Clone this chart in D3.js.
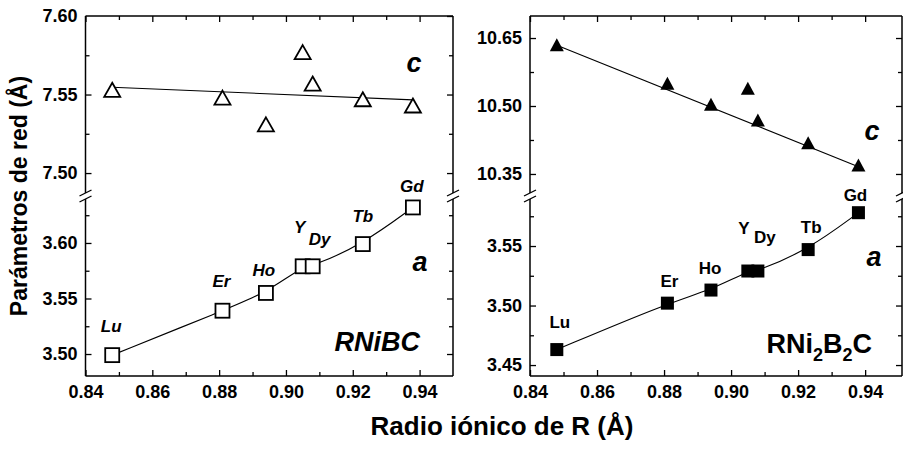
<!DOCTYPE html>
<html>
<head>
<meta charset="utf-8">
<script src="https://cdn.jsdelivr.net/npm/d3@7"></script>
<style>
  html, body { margin: 0; padding: 0; background: #fff; }
  svg { display: block; }
  text { font-family: "Liberation Sans", Arial, Helvetica, sans-serif; fill: #000; }
</style>
</head>
<body>
<svg id="chart" width="903" height="449"></svg>
<script>
// ---------------- data ----------------
const elements = ["Lu", "Er", "Ho", "Y", "Dy", "Tb", "Gd"];
const ionicRadius = [0.848, 0.881, 0.894, 0.905, 0.908, 0.923, 0.938];
const rnibcC = [7.553, 7.548, 7.531, 7.577, 7.557, 7.547, 7.543];
const rnibcA = [3.499, 3.539, 3.555, 3.579, 3.579, 3.599, 3.632];
const rni2b2cC = [10.635, 10.550, 10.504, 10.539, 10.469, 10.419, 10.370];
const rni2b2cA = [3.463, 3.502, 3.513, 3.529, 3.529, 3.547, 3.578];
const fitX = [0.848, 0.938];
const rnibcCFit = [7.5546, 7.5466];
const rni2b2cCFit = [10.634, 10.366];

const xTicksMajor = [0.84, 0.86, 0.88, 0.90, 0.92, 0.94];
const xTicksMinor = [0.85, 0.87, 0.89, 0.91, 0.93];
const leftUpperTicks = [7.50, 7.55, 7.60];
const leftUpperMinor = [7.525, 7.575];
const leftLowerTicks = [3.50, 3.55, 3.60];
const leftLowerMinor = [3.525, 3.575, 3.625];
const rightUpperTicks = [10.35, 10.50, 10.65];
const rightUpperMinor = [10.425, 10.575];
const rightLowerTicks = [3.45, 3.50, 3.55];
const rightLowerMinor = [3.475, 3.525, 3.575];

// ---------------- layout ----------------
const svg = d3.select("#chart");
const TOP = 16, BOTTOM = 376, BRK_TOP = 193, BRK_BOT = 199;
const FONT = '"Liberation Sans", Arial, Helvetica, sans-serif';

const panels = [
  {
    x0: 85.5, x1: 453, xDomainEnd: 0.95,
    upper: { domain: [7.4873, 7.60], ticks: leftUpperTicks, minor: leftUpperMinor },
    lower: { domain: [3.4802, 3.6396], ticks: leftLowerTicks, minor: leftLowerMinor },
    c: rnibcC, a: rnibcA, cFit: rnibcCFit, filled: false, italic: true,
    labelOffsets: { Lu: [-1, -23], Er: [-1, -24], Ho: [-2, -17], Y: [-3, -33], Dy: [7, -21], Tb: [0, -22], Gd: [-1, -15] },
    cLabel: [414, 72], aLabel: [420, 271],
    name: "RNiBC", nameX: 420, nameY: 351
  },
  {
    x0: 530, x1: 902, xDomainEnd: 0.951,
    upper: { domain: [10.308, 10.6986], ticks: rightUpperTicks, minor: rightUpperMinor },
    lower: { domain: [3.4408, 3.5895], ticks: rightLowerTicks, minor: rightLowerMinor },
    c: rni2b2cC, a: rni2b2cA, cFit: rni2b2cCFit, filled: true, italic: false,
    labelOffsets: { Lu: [3, -22], Er: [2, -16], Ho: [-1, -16], Y: [-4, -37], Dy: [7, -28], Tb: [3, -17], Gd: [-3, -12] },
    cLabel: [872, 140], aLabel: [874, 266],
    name: "RNi2B2C", nameX: 872, nameY: 353
  }
];

function triPath(w, h) {
  return `M0,${-h / 2}L${w / 2},${h / 2}L${-w / 2},${h / 2}Z`;
}

panels.forEach(p => {
  const g = svg.append("g");
  const x = d3.scaleLinear().domain([0.84, p.xDomainEnd]).range([p.x0, p.x1]);
  const yU = d3.scaleLinear().domain(p.upper.domain).range([BRK_TOP, TOP]);
  const yL = d3.scaleLinear().domain(p.lower.domain).range([BOTTOM, BRK_BOT]);

  // frame
  const frame = g.append("g").attr("stroke", "#000").attr("stroke-width", 1.5).attr("fill", "none");
  frame.append("line").attr("x1", p.x0).attr("x2", p.x1).attr("y1", TOP).attr("y2", TOP);
  frame.append("line").attr("x1", p.x0).attr("x2", p.x1).attr("y1", BOTTOM).attr("y2", BOTTOM);
  [p.x0, p.x1].forEach(xx => {
    frame.append("line").attr("x1", xx).attr("x2", xx).attr("y1", TOP).attr("y2", BRK_TOP);
    frame.append("line").attr("x1", xx).attr("x2", xx).attr("y1", BRK_BOT).attr("y2", BOTTOM);
    [BRK_TOP, BRK_BOT].forEach(yy => {
      frame.append("line").attr("x1", xx - 6).attr("x2", xx + 6).attr("y1", yy + 3).attr("y2", yy - 3)
        .attr("stroke-width", 1.3);
    });
  });

  function styleAxis(sel) {
    sel.select(".domain").remove();
    sel.selectAll(".tick line").attr("stroke", "#000").attr("stroke-width", 1.3);
    sel.selectAll(".tick text")
      .style("font-size", "18px").style("font-weight", "bold").style("font-family", FONT);
  }
  const fmt = d3.format(".2f");

  // bottom axis
  g.append("g").attr("transform", `translate(0,${BOTTOM})`)
    .call(d3.axisBottom(x).tickValues(xTicksMajor).tickSize(-6).tickPadding(9).tickFormat(fmt))
    .call(styleAxis);
  g.append("g").attr("transform", `translate(0,${BOTTOM})`)
    .call(d3.axisBottom(x).tickValues(xTicksMinor).tickSize(-4).tickFormat(""))
    .call(styleAxis);
  // top axis
  g.append("g").attr("transform", `translate(0,${TOP})`)
    .call(d3.axisTop(x).tickValues(xTicksMajor).tickSize(-6).tickFormat(""))
    .call(styleAxis);
  g.append("g").attr("transform", `translate(0,${TOP})`)
    .call(d3.axisTop(x).tickValues(xTicksMinor).tickSize(-4).tickFormat(""))
    .call(styleAxis);

  // y axes
  [[yU, p.upper], [yL, p.lower]].forEach(([ys, cfg]) => {
    g.append("g").attr("transform", `translate(${p.x0},0)`)
      .call(d3.axisLeft(ys).tickValues(cfg.ticks).tickSize(-6).tickPadding(8).tickFormat(fmt))
      .call(styleAxis)
      .call(s => s.selectAll(".tick line").filter(d => Math.abs(ys(d) - TOP) < 1).remove());
    g.append("g").attr("transform", `translate(${p.x0},0)`)
      .call(d3.axisLeft(ys).tickValues(cfg.minor).tickSize(-4).tickFormat(""))
      .call(styleAxis);
    g.append("g").attr("transform", `translate(${p.x1},0)`)
      .call(d3.axisRight(ys).tickValues(cfg.ticks).tickSize(-6).tickFormat(""))
      .call(styleAxis);
    g.append("g").attr("transform", `translate(${p.x1},0)`)
      .call(d3.axisRight(ys).tickValues(cfg.minor).tickSize(-4).tickFormat(""))
      .call(styleAxis);
  });

  const pts = elements.map((e, i) => ({ e, x: ionicRadius[i], c: p.c[i], a: p.a[i] }));

  // c fit line
  g.append("path")
    .datum(fitX.map((v, i) => [v, p.cFit[i]]))
    .attr("fill", "none").attr("stroke", "#000").attr("stroke-width", 1.1)
    .attr("d", d3.line().x(d => x(d[0])).y(d => yU(d[1])));
  // a curve (smoothed through the points)
  g.append("path")
    .datum(pts)
    .attr("fill", "none").attr("stroke", "#000").attr("stroke-width", 1.1)
    .attr("d", d3.line().curve(d3.curveBasis).x(d => x(d.x)).y(d => yL(d.a)));

  // markers
  if (p.filled) {
    g.selectAll(".tri").data(pts).join("path")
      .attr("transform", d => `translate(${x(d.x)},${yU(d.c)})`)
      .attr("d", triPath(14, 13)).attr("fill", "#000");
    g.selectAll(".sq").data(pts).join("rect")
      .attr("x", d => x(d.x) - 6.5).attr("y", d => yL(d.a) - 6.5)
      .attr("width", 13).attr("height", 13).attr("fill", "#000");
  } else {
    g.selectAll(".tri").data(pts).join("path")
      .attr("transform", d => `translate(${x(d.x)},${yU(d.c)})`)
      .attr("d", triPath(16, 14)).attr("fill", "#fff").attr("stroke", "#000").attr("stroke-width", 1.8)
      .attr("stroke-linejoin", "miter");
    g.selectAll(".sq").data(pts).join("rect")
      .attr("x", d => x(d.x) - 7).attr("y", d => yL(d.a) - 7)
      .attr("width", 14).attr("height", 14).attr("fill", "#fff").attr("stroke", "#000").attr("stroke-width", 1.8);
  }

  // element labels
  g.selectAll(".lab").data(pts).join("text")
    .attr("x", d => x(d.x) + p.labelOffsets[d.e][0])
    .attr("y", d => yL(d.a) + p.labelOffsets[d.e][1])
    .attr("text-anchor", "middle")
    .attr("font-size", 17).attr("font-weight", "bold")
    .attr("font-style", p.italic ? "italic" : "normal")
    .text(d => d.e);

  // c / a labels
  g.append("text").attr("x", p.cLabel[0]).attr("y", p.cLabel[1]).attr("text-anchor", "middle")
    .attr("font-size", 27).attr("font-weight", "bold").attr("font-style", "italic").text("c");
  g.append("text").attr("x", p.aLabel[0]).attr("y", p.aLabel[1]).attr("text-anchor", "middle")
    .attr("font-size", 27).attr("font-weight", "bold").attr("font-style", "italic").text("a");

  // compound name
  const nm = g.append("text").attr("x", p.nameX).attr("y", p.nameY).attr("text-anchor", "end")
    .attr("font-size", 27);
  if (p.italic) {
    nm.attr("font-weight", "bold").attr("font-style", "italic").text(p.name);
  } else {
    nm.attr("font-weight", "bold");
    nm.append("tspan").text("RNi");
    nm.append("tspan").attr("font-size", 18).attr("dy", 8).text("2");
    nm.append("tspan").attr("dy", -8).text("B");
    nm.append("tspan").attr("font-size", 18).attr("dy", 8).text("2");
    nm.append("tspan").attr("dy", -8).text("C");
  }
});

// axis titles
svg.append("text")
  .attr("transform", "translate(27,196) rotate(-90)")
  .attr("text-anchor", "middle").attr("font-size", 23).attr("font-weight", "bold")
  .text("Parámetros de red (Å)");
svg.append("text")
  .attr("x", 502).attr("y", 435)
  .attr("text-anchor", "middle").attr("font-size", 26).attr("font-weight", "bold")
  .text("Radio iónico de R (Å)");
</script>
</body>
</html>
